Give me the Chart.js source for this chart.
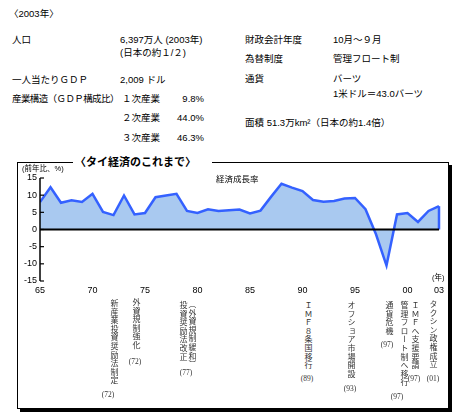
<!DOCTYPE html>
<html lang="ja">
<head>
<meta charset="utf-8">
<script src="https://cdn.jsdelivr.net/npm/chart.js@4.4.0/dist/chart.umd.min.js"></script>
<style>
html, body { margin: 0; padding: 0; background: #fff; }
#page { position: relative; width: 465px; height: 419px; overflow: hidden;
  font-family: "Liberation Sans", "Noto Sans CJK JP", sans-serif; color: #000; }
.t { position: absolute; white-space: nowrap; line-height: 1; font-size: 9.5px; }
#box { position: absolute; left: 17px; top: 162px; width: 430px; height: 245px;
  border: 1px solid #000; box-shadow: 3px 3px 0 #000; }
#title { position: absolute; left: 73px; top: 154px; width: 137px; height: 16px; background: #fff;
  font-size: 11px; font-weight: bold; line-height: 16px; padding-left: 2px; white-space: nowrap; }
#chartWrap { position: absolute; left: 17px; top: 163px; width: 431px; height: 137px; }
.v { position: absolute; writing-mode: vertical-rl; font-size: 8px; line-height: 1;
  letter-spacing: 0.6px; color: #333; white-space: nowrap; transform: translateX(-50%); }
.n { position: absolute; font-size: 7.5px; line-height: 1; color: #333; white-space: nowrap;
  transform: translate(-50%, -50%); font-family: "Liberation Serif", serif; }
</style>
</head>
<body>
<div id="page">
  <div class="t" style="left:9px;top:9px">〈2003年〉</div>

  <div class="t" style="left:12px;top:35px">人口</div>
  <div class="t" style="left:120px;top:35px">6,397万人 (2003年)</div>
  <div class="t" style="left:120px;top:48px">(日本の約１/２)</div>
  <div class="t" style="left:12px;top:75px">一人当たりＧＤＰ</div>
  <div class="t" style="left:120px;top:75px">2,009 ドル</div>
  <div class="t" style="left:12px;top:94px;letter-spacing:-0.6px">産業構造（ＧＤＰ構成比）</div>
  <div class="t" style="left:122px;top:94px">１次産業</div>
  <div class="t" style="right:261px;top:94px">9.8%</div>
  <div class="t" style="left:122px;top:113px">２次産業</div>
  <div class="t" style="right:261px;top:113px">44.0%</div>
  <div class="t" style="left:122px;top:133px">３次産業</div>
  <div class="t" style="right:261px;top:133px">46.3%</div>

  <div class="t" style="left:245px;top:35px">財政会計年度</div>
  <div class="t" style="left:333px;top:35px">10月～９月</div>
  <div class="t" style="left:245px;top:54px">為替制度</div>
  <div class="t" style="left:333px;top:54px">管理フロート制</div>
  <div class="t" style="left:245px;top:74px">通貨</div>
  <div class="t" style="left:333px;top:74px">バーツ</div>
  <div class="t" style="left:333px;top:89px">1米ドル＝43.0バーツ</div>
  <div class="t" style="left:245px;top:118px">面積 51.3万km²（日本の約1.4倍）</div>

  <div id="box"></div>
  <div id="title">〈タイ経済のこれまで〉</div>
  <div id="chartWrap"><canvas id="chart"></canvas></div>

  <div class="t" style="left:22px;top:165px;font-size:7.5px">(前年比、%)</div>
  <div class="t" style="left:216px;top:175px;font-size:8.5px">経済成長率</div>
  <div class="t" style="left:432px;top:274px;font-size:7.5px">(年)</div>

  <div class="v" style="left:113px;top:299px">新産業投資奨励法制定</div>
  <div class="n" style="left:108px;top:395px">(72)</div>
  <div class="v" style="left:135px;top:298px">外資規制強化</div>
  <div class="n" style="left:135px;top:362px">(72)</div>
  <div class="v" style="left:191px;top:300px">（外資規制緩和）</div>
  <div class="v" style="left:182px;top:301px">投資奨励法改正</div>
  <div class="n" style="left:186px;top:373px">(77)</div>
  <div class="v" style="left:307px;top:301px">ＩＭＦ８条国移行</div>
  <div class="n" style="left:307px;top:379px">(89)</div>
  <div class="v" style="left:350px;top:301px">オフショア市場開設</div>
  <div class="n" style="left:350px;top:389px">(93)</div>
  <div class="v" style="left:388px;top:301px">通貨危機</div>
  <div class="n" style="left:387px;top:345px">(97)</div>
  <div class="v" style="left:403px;top:301px">管理フロート制へ移行</div>
  <div class="n" style="left:397px;top:397px">(97)</div>
  <div class="v" style="left:414px;top:301px">ＩＭＦへ支援要請</div>
  <div class="n" style="left:414px;top:379px">(97)</div>
  <div class="v" style="left:432px;top:300px">タクシン政権成立</div>
  <div class="n" style="left:433px;top:379px">(01)</div>
</div>

<script>
// 年（カテゴリ）
var years = [1965, 1966, 1967, 1968, 1969, 1970, 1971, 1972, 1973, 1974,
             1975, 1976, 1977, 1978, 1979, 1980, 1981, 1982, 1983, 1984,
             1985, 1986, 1987, 1988, 1989, 1990, 1991, 1992, 1993, 1994,
             1995, 1996, 1997, 1998, 1999, 2000, 2001, 2002, 2003];

// 経済成長率（前年比、%）
var growth = [8.0, 12.3, 7.8, 8.5, 8.0, 10.4, 5.1, 4.2, 9.9, 4.4,
              4.8, 9.4, 9.9, 10.4, 5.4, 4.8, 5.9, 5.4, 5.6, 5.8,
              4.7, 5.5, 9.5, 13.3, 12.2, 11.2, 8.6, 8.1, 8.3, 9.0,
              9.2, 5.9, -1.4, -10.5, 4.4, 4.8, 2.2, 5.4, 6.8];

// 目盛り
var xTicks = [1965, 1970, 1975, 1980, 1985, 1990, 1995, 2000, 2003];
var yTicks = [-15, -10, -5, 0, 5, 10, 15];

var lineColor = '#3461ff';
var fillColor = '#a9c9f0';

// 軸線・ゼロ線・内向きの目盛りを系列の上に描く
var axisPlugin = {
    id: 'axisPlugin',
    afterDatasetsDraw: function (chart) {
        var ctx = chart.ctx;
        var x = chart.scales.x, y = chart.scales.y;
        var area = chart.chartArea;
        ctx.save();

        // 右端の縦線（面グラフの縁）
        var last = growth.length - 1;
        ctx.strokeStyle = lineColor;
        ctx.lineWidth = 2.5;
        ctx.beginPath();
        ctx.moveTo(x.getPixelForValue(years[last]), y.getPixelForValue(growth[last]));
        ctx.lineTo(x.getPixelForValue(years[last]), y.getPixelForValue(0));
        ctx.stroke();

        // ゼロ線
        ctx.strokeStyle = '#000';
        ctx.lineWidth = 2;
        var y0 = y.getPixelForValue(0);
        ctx.beginPath();
        ctx.moveTo(area.left, y0);
        ctx.lineTo(x.getPixelForValue(years[last]), y0);
        ctx.stroke();

        // Y軸
        ctx.lineWidth = 1.5;
        ctx.beginPath();
        ctx.moveTo(area.left, y.getPixelForValue(15));
        ctx.lineTo(area.left, y.getPixelForValue(-15));
        ctx.stroke();

        ctx.lineWidth = 1.2;
        yTicks.forEach(function (v) {
            var py = y.getPixelForValue(v);
            ctx.beginPath();
            ctx.moveTo(area.left, py);
            ctx.lineTo(area.left + 4, py);
            ctx.stroke();
        });
        ctx.restore();
    }
};

var tickFont = { family: 'Liberation Sans', size: 9 };

new Chart(document.getElementById('chart').getContext('2d'), {
    type: 'line',
    data: {
        labels: years,
        datasets: [{
            label: '経済成長率',
            data: years.map(function (yr, i) { return { x: yr, y: growth[i] }; }),
            borderColor: lineColor,
            backgroundColor: fillColor,
            borderWidth: 2.5,
            fill: 'origin',
            tension: 0,
            pointRadius: 0
        }]
    },
    options: {
        responsive: true,
        maintainAspectRatio: false,
        animation: false,
        layout: { padding: { left: 0, top: 15, right: 6, bottom: 0 } },
        plugins: {
            legend: { display: false },
            tooltip: { enabled: false },
            title: { display: false }
        },
        scales: {
            x: {
                type: 'linear',
                min: 1965,
                max: 2003,
                afterBuildTicks: function (s) { s.ticks = xTicks.map(function (v) { return { value: v }; }); },
                afterFit: function (s) { s.height = 19; },
                grid: { display: false, drawTicks: false },
                border: { display: false },
                ticks: {
                    padding: 4, color: '#000', font: tickFont, maxRotation: 0, autoSkip: false,
                    callback: function (v) { return String(v % 100).padStart(2, '0'); }
                }
            },
            y: {
                min: -15,
                max: 15,
                afterBuildTicks: function (s) { s.ticks = yTicks.map(function (v) { return { value: v }; }); },
                afterFit: function (s) { s.width = 23; },
                grid: { display: false, drawTicks: false },
                border: { display: false },
                ticks: { padding: 3, color: '#000', font: tickFont }
            }
        }
    },
    plugins: [axisPlugin]
});
</script>
</body>
</html>
